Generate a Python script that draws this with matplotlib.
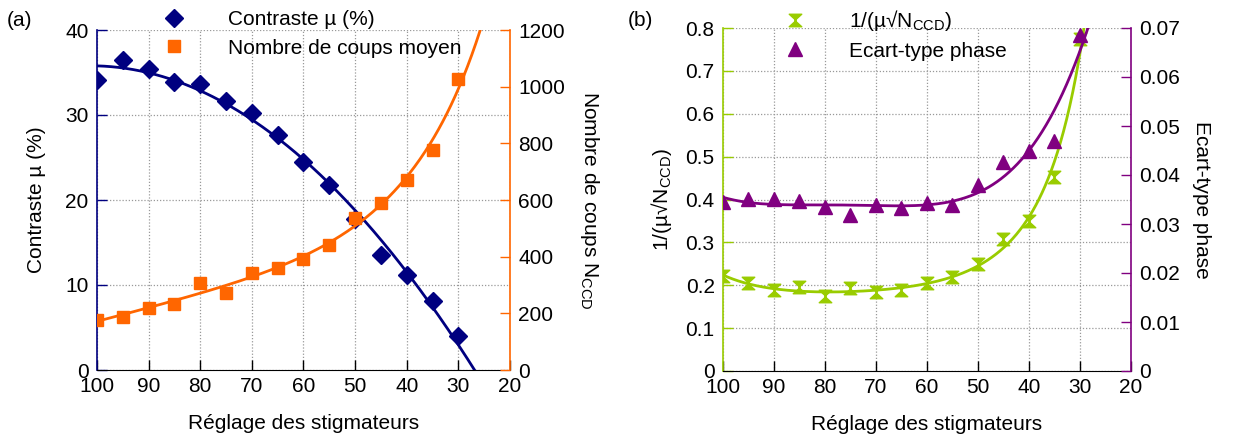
import matplotlib
matplotlib.use('Agg')
import matplotlib.pyplot as plt
import numpy as np
from matplotlib.path import Path

plt.rcParams['font.family'] = ['Liberation Sans', 'DejaVu Sans']
plt.rcParams['mathtext.fontset'] = 'custom'
plt.rcParams['mathtext.rm'] = 'Liberation Sans'
plt.rcParams['font.size'] = 15

# reglage des stigmateurs
reglage = [100, 95, 90, 85, 80, 75, 70, 65, 60, 55, 50, 45, 40, 35, 30]

# panel (a)
contraste = [34.1, 36.5, 35.4, 33.9, 33.6, 31.7, 30.2, 27.6, 24.5, 21.8, 17.8, 13.5, 11.2, 8.1, 4.0]
coups = [177, 188, 219, 234, 308, 272, 343, 361, 393, 442, 538, 588, 669, 775, 1027]

# panel (b)
inv_mu_sqrtn = [0.222, 0.205, 0.19, 0.195, 0.175, 0.193, 0.184, 0.189, 0.205, 0.219, 0.25, 0.307, 0.35, 0.453, 0.774]
ecart_phase = [0.0345, 0.0351, 0.0351, 0.0347, 0.0334, 0.0318, 0.0339, 0.0332, 0.0343, 0.0339, 0.038, 0.0427, 0.045, 0.047, 0.0686]

c_blue = '#000080'
c_orange = '#ff6600'
c_green = '#99cc00'
c_purple = '#800080'

hourglass = Path([(-1, 1), (1, 1), (-0.1, 0), (1, -1), (-1, -1), (0.1, 0), (-1, 1)],
                 [Path.MOVETO] + [Path.LINETO] * 5 + [Path.CLOSEPOLY])

xs = np.array(reglage, dtype=float)
xfit = np.linspace(100, 20, 400)

fig = plt.figure(figsize=(12.33, 4.41), dpi=100)
W, H = 1233, 441


def make_axes(x0, x1, y0, y1):
    return fig.add_axes([x0 / W, 1 - y1 / H, (x1 - x0) / W, (y1 - y0) / H])


def style_pair(ax, axr, cl, cr):
    ax.set_xlim(100, 20)
    ax.set_xticks(range(100, 19, -10))
    ax.grid(True, color='#999999', linestyle=(0, (1, 1.5)), linewidth=0.9)
    ax.set_axisbelow(True)
    ax.spines['top'].set_visible(False)
    ax.spines['right'].set_visible(False)
    ax.spines['left'].set_color(cl)
    ax.spines['left'].set_linewidth(1.2)
    ax.spines['bottom'].set_color('black')
    for s in ['top', 'left', 'bottom']:
        axr.spines[s].set_visible(False)
    axr.spines['right'].set_color(cr)
    axr.spines['right'].set_linewidth(1.2)
    ax.tick_params(axis='x', direction='in', length=7, width=1, color='black', pad=5)
    ax.tick_params(axis='y', direction='in', length=7, width=1, color=cl, pad=6)
    axr.tick_params(axis='y', direction='in', length=7, width=1, color=cr, pad=6)
    ax.set_xlabel('Réglage des stigmateurs', labelpad=13)


# ---- (a) ----
ax1 = make_axes(97, 510, 30, 370)
ax1r = ax1.twinx()
style_pair(ax1, ax1r, c_blue, c_orange)

p = np.polyfit(xs, contraste, 2)
ax1.plot(xfit, np.polyval(p, xfit), color=c_blue, lw=2, zorder=3)
h1, = ax1.plot(reglage, contraste, 'D', color=c_blue, ms=9, ls='none', zorder=4,
               label='Contraste µ (%)')
ax1.set_ylim(0, 40)
ax1.set_yticks([0, 10, 20, 30, 40])
ax1.set_ylabel('Contraste µ (%)', labelpad=14)

p = np.polyfit(xs, np.log(coups), 3)
ax1r.plot(xfit, np.exp(np.polyval(p, xfit)), color=c_orange, lw=2, zorder=3)
h2, = ax1r.plot(reglage, coups, 's', color=c_orange, ms=9, ls='none', zorder=4,
                label='Nombre de coups moyen')
ax1r.set_ylim(0, 1200)
ax1r.set_yticks(range(0, 1201, 200))
ax1r.set_ylabel('Nombre de coups N$_{\\mathrm{CCD}}$', rotation=-90, labelpad=26)

fig.legend(handles=[h1, h2], loc='upper left', bbox_to_anchor=(153 / W, 1 - 2 / H),
           frameon=False, handlelength=1.2, handletextpad=2.0, labelspacing=0.45,
           borderaxespad=0, fontsize=15)
fig.text(20 / W, 1 - 20 / H, '(a)', ha='center', va='center', fontsize=15)

# ---- (b) ----
ax2 = make_axes(723, 1131, 28, 371)
ax2r = ax2.twinx()
style_pair(ax2, ax2r, c_green, c_purple)

p = np.polyfit(xs, np.log(inv_mu_sqrtn), 4)
ax2.plot(xfit, np.exp(np.polyval(p, xfit)), color=c_green, lw=2, zorder=3)
h3, = ax2.plot(reglage, inv_mu_sqrtn, marker=hourglass, color=c_green, ms=9, ls='none',
               zorder=4, label='1/(µ√N$_{\\mathrm{CCD}}$)')
ax2.set_ylim(0, 0.8)
ax2.set_yticks(np.arange(0, 0.81, 0.1))
ax2.set_yticklabels(['0', '0.1', '0.2', '0.3', '0.4', '0.5', '0.6', '0.7', '0.8'])
ax2.set_ylabel('1/(µ√N$_{\\mathrm{CCD}}$)', labelpad=8)

p = np.polyfit(xs, ecart_phase, 4)
ax2r.plot(xfit, np.polyval(p, xfit), color=c_purple, lw=2, zorder=3)
h4, = ax2r.plot(reglage, ecart_phase, '^', color=c_purple, ms=10, ls='none', zorder=4,
                label='Ecart-type phase')
ax2r.set_ylim(0, 0.07)
ax2r.set_yticks(np.arange(0, 0.071, 0.01))
ax2r.set_yticklabels(['0', '0.01', '0.02', '0.03', '0.04', '0.05', '0.06', '0.07'])
ax2r.set_ylabel('Ecart-type phase', rotation=-90, labelpad=22)

fig.legend(handles=[h3, h4], loc='upper left', bbox_to_anchor=(774 / W, 1 - 0 / H),
           frameon=False, handlelength=1.2, handletextpad=2.0, labelspacing=0.4,
           borderaxespad=0, fontsize=15)
fig.text(640 / W, 1 - 20 / H, '(b)', ha='center', va='center', fontsize=15)

fig.savefig('out.png', dpi=100)
